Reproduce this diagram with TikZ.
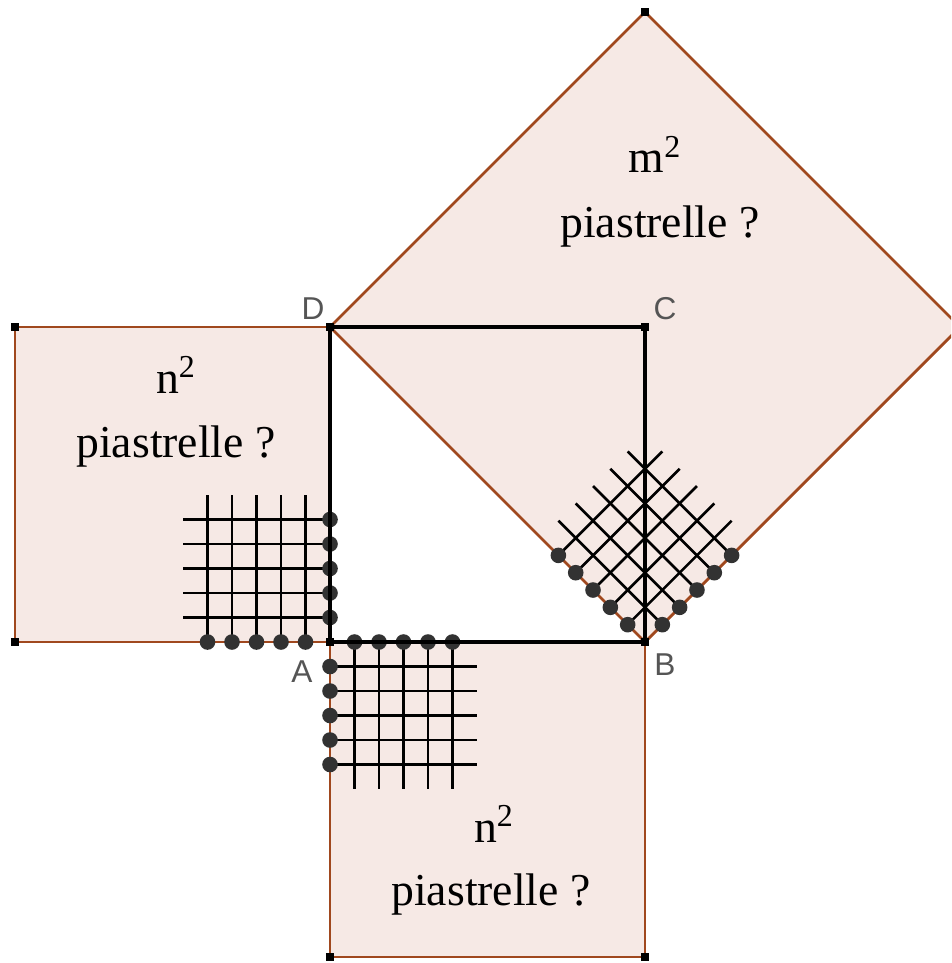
\documentclass[tikz,border=0pt]{standalone}
\usepackage{fontspec}
\setmainfont{Liberation Serif}
\setsansfont{Liberation Sans}
\usetikzlibrary{calc}

\definecolor{tile}{RGB}{246,233,229}
\definecolor{rim}{RGB}{160,72,30}
\definecolor{letter}{RGB}{85,85,85}
\definecolor{bead}{RGB}{50,50,50}

% one corner of tiles: lines and beads along two sides
\newcommand{\tilecorner}{%
  \foreach \k in {1,...,5} {
    \draw[tileline] (\k*24.5,0) -- (\k*24.5,147);
    \draw[tileline] (0,\k*24.5) -- (147,\k*24.5);
  }
  \foreach \k in {1,...,5} {
    \fill[bead] (\k*24.5,0) circle[radius=7.8];
    \fill[bead] (0,\k*24.5) circle[radius=7.8];
  }%
}

\begin{document}
\begin{tikzpicture}[
  x=0.02cm, y=-0.02cm,
  sqr/.style={fill=tile, draw=rim, line width=1.6pt, line join=miter},
  side/.style={draw=black, line width=2.8pt, line cap=square},
  tileline/.style={draw=black, line width=1.5pt},
  vtx/.style={rectangle, fill=black, inner sep=0pt, minimum size=4pt},
  pt/.style={font=\sffamily\fontsize{18}{20}\selectfont, text=letter, inner sep=0pt},
  txt/.style={font=\fontsize{26}{30}\selectfont, anchor=base, inner sep=0pt}
]
  \clip (0,0) rectangle (951,963);
  \useasboundingbox (0,0) rectangle (951,963);

  \coordinate (A) at (330,642);
  \coordinate (B) at (645,642);
  \coordinate (C) at (645,327);
  \coordinate (D) at (330,327);
  \coordinate (L1) at (15,327);
  \coordinate (L2) at (15,642);
  \coordinate (U1) at (330,957);
  \coordinate (U2) at (645,957);
  \coordinate (T) at (645,12);
  \coordinate (R) at (960,327);

  % squares on the sides
  \draw[sqr] (L1) -- (D) -- (A) -- (L2) -- cycle;
  \draw[sqr] (A) -- (B) -- (U2) -- (U1) -- cycle;
  \draw[sqr] (D) -- (T) -- (R) -- (B) -- cycle;

  % tiles in the corners
  \begin{scope}[shift={(A)}, rotate=180]
    \tilecorner
  \end{scope}
  \begin{scope}[shift={(A)}]
    \tilecorner
  \end{scope}
  \begin{scope}[shift={(B)}, rotate=135]
    \tilecorner
  \end{scope}

  % the square ABCD
  \draw[side] (A) -- (B) -- (C) -- (D) -- cycle;

  \foreach \p in {A,B,C,D,L1,L2,U1,U2,T,R}
    \node[vtx] at (\p) {};

  \node[pt] (lblD) at (313,309) {D};
  \node[pt] (lblC) at (665,309) {C};
  \node[pt] (lblA) at (302,672) {A};
  \node[pt] (lblB) at (665,665) {B};

  \node[txt] (m2) at (655,173) {m\textsuperscript{2}};
  \node[txt] (m2p) at (660,237) {piastrelle ?};
  \node[txt] (n2a) at (176,393) {n\textsuperscript{2}};
  \node[txt] (n2ap) at (176,457) {piastrelle ?};
  \node[txt] (n2b) at (494,842) {n\textsuperscript{2}};
  \node[txt] (n2bp) at (491,905) {piastrelle ?};
\end{tikzpicture}
\end{document}
